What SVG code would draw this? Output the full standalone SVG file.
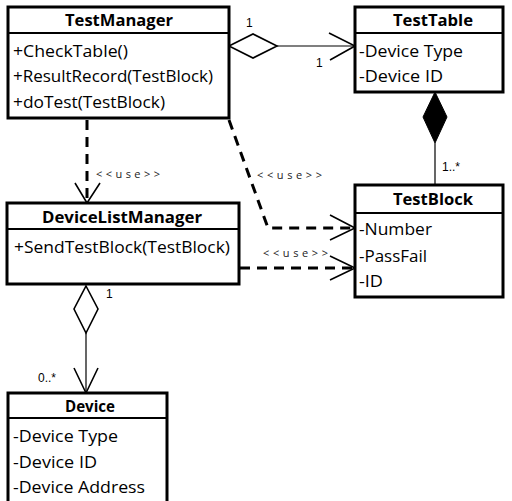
<svg xmlns="http://www.w3.org/2000/svg" width="512" height="501" viewBox="0 0 512 501">
<style>
.box{fill:#fff;stroke:#000;stroke-width:3}
.div{stroke:#000;stroke-width:2}
.t{font-family:"Open Sans","DejaVu Sans",sans-serif;font-size:16px;fill:#000}
.b{font-weight:bold;font-size:16px;text-anchor:middle}
.s{font-family:"Liberation Sans",Arial,sans-serif;font-size:12px;fill:#000}
.u{font-family:"Open Sans","DejaVu Sans",sans-serif;font-size:11px;fill:#222}
.dash{fill:none;stroke:#000;stroke-width:3;stroke-dasharray:10 7}
.ln{fill:none;stroke:#000;stroke-width:1.2}
.ah{fill:none;stroke:#000;stroke-width:1.6}
</style>
<rect width="512" height="501" fill="#fff"/>
<g id="connectors">
<path class="ln" d="M277 46 H355"/>
<path class="ah" d="M329 33 L355 46 L330 60"/>
<path d="M229 46 L253 34 L277 46 L253 58 Z" fill="#fff" stroke="#000" stroke-width="1.6"/>
<path class="ln" d="M435 143 V185"/>
<path d="M435 92 L447 117 L435 143 L423 117 Z" fill="#000" stroke="#000" stroke-width="1"/>
<path class="dash" d="M87 120 V201"/>
<path class="ah" d="M75 183 L87 203 L100 183"/>
<path class="dash" d="M229 120 L268 228 H352"/>
<path class="ah" d="M330 215 L355 228 L330 240"/>
<path class="dash" d="M240 268 H352"/>
<path class="ah" d="M330 256 L355 268 L330 280"/>
<path class="ln" d="M86 333 V393"/>
<path class="ah" d="M74 368 L86 393 L98 368"/>
<path d="M86 286 L98 309 L86 333 L74 309 Z" fill="#fff" stroke="#000" stroke-width="1.6"/>
<text class="s" x="246" y="27">1</text>
<text class="s" x="316" y="67">1</text>
<text class="s" x="442" y="171">1..*</text>
<text class="s" x="106" y="298">1</text>
<text class="s" x="38" y="382">0..*</text>
<text class="u" x="96" y="178" textLength="64" lengthAdjust="spacing">&lt;&lt;use&gt;&gt;</text>
<text class="u" x="257" y="179" textLength="65" lengthAdjust="spacing">&lt;&lt;use&gt;&gt;</text>
<text class="u" x="263" y="257" textLength="65" lengthAdjust="spacing">&lt;&lt;use&gt;&gt;</text>
</g>
<g id="TestManager">
<rect class="box" x="8" y="7" width="221" height="111"/>
<line class="div" x1="8" y1="33" x2="229" y2="33"/>
<text class="t b" x="119" y="26" textLength="108" lengthAdjust="spacingAndGlyphs">TestManager</text>
<text class="t" x="13" y="57" textLength="115" lengthAdjust="spacingAndGlyphs">+CheckTable()</text>
<text class="t" x="13" y="82" textLength="200" lengthAdjust="spacingAndGlyphs">+ResultRecord(TestBlock)</text>
<text class="t" x="13" y="108" textLength="152" lengthAdjust="spacingAndGlyphs">+doTest(TestBlock)</text>
</g>
<g id="TestTable">
<rect class="box" x="355" y="7" width="148" height="85"/>
<line class="div" x1="355" y1="33" x2="503" y2="33"/>
<text class="t b" x="433" y="26" textLength="80" lengthAdjust="spacingAndGlyphs">TestTable</text>
<text class="t" x="359" y="57" textLength="104" lengthAdjust="spacingAndGlyphs">-Device Type</text>
<text class="t" x="359" y="82" textLength="84" lengthAdjust="spacingAndGlyphs">-Device ID</text>
</g>
<g id="TestBlock">
<rect class="box" x="355" y="185" width="148" height="112"/>
<line class="div" x1="355" y1="213" x2="503" y2="213"/>
<text class="t b" x="433" y="205" textLength="80" lengthAdjust="spacingAndGlyphs">TestBlock</text>
<text class="t" x="359" y="235" textLength="73" lengthAdjust="spacingAndGlyphs">-Number</text>
<text class="t" x="359" y="262" textLength="68" lengthAdjust="spacingAndGlyphs">-PassFail</text>
<text class="t" x="359" y="287" textLength="24" lengthAdjust="spacingAndGlyphs">-ID</text>
</g>
<g id="DeviceListManager">
<rect class="box" x="7" y="203" width="232" height="81"/>
<line class="div" x1="7" y1="229" x2="239" y2="229"/>
<text class="t b" x="122" y="223" textLength="160" lengthAdjust="spacingAndGlyphs">DeviceListManager</text>
<text class="t" x="14" y="253" textLength="216" lengthAdjust="spacingAndGlyphs">+SendTestBlock(TestBlock)</text>
</g>
<g id="Device">
<rect class="box" x="8" y="393" width="159" height="112"/>
<line class="div" x1="8" y1="418" x2="167" y2="418"/>
<text class="t b" x="90" y="412" textLength="50" lengthAdjust="spacingAndGlyphs">Device</text>
<text class="t" x="13" y="442" textLength="105" lengthAdjust="spacingAndGlyphs">-Device Type</text>
<text class="t" x="13" y="468" textLength="84" lengthAdjust="spacingAndGlyphs">-Device ID</text>
<text class="t" x="13" y="493" textLength="132" lengthAdjust="spacingAndGlyphs">-Device Address</text>
</g>
</svg>
